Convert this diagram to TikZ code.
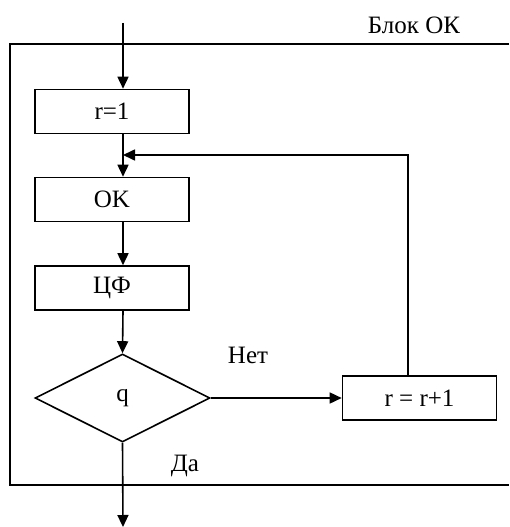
\documentclass[tikz,border=0pt]{standalone}
\usepackage{fontspec}
\setmainfont{Liberation Serif}
\usetikzlibrary{arrows.meta,shapes.geometric}
\begin{document}
\begin{tikzpicture}[x=1pt,y=-1pt,
  line width=1.6pt,
  every node/.style={font=\fontsize{25}{29}\selectfont},
  procbox/.style={draw,rectangle,minimum width=154pt,minimum height=44pt,inner sep=0pt},
  decis/.style={draw,diamond,minimum width=175pt,minimum height=88pt,inner sep=0pt},
  flow/.style={-{Triangle[length=12pt,width=11pt]}},
  lbl/.style={inner sep=0pt}]
\useasboundingbox (0,0) rectangle (509,527);
% frame
\draw (509,44) -- (10,44) -- (10,485) -- (509,485);
\node[lbl] (title) at (414,25) {Блок ОК};
\coordinate (start) at (123,23);
\node[procbox] (r1) at (112,111.5) {r=1};
\node[procbox] (ok) at (112,199.5) {OK};
\node[procbox] (cf) at (112,288) {ЦФ};
\node[decis] (q) at (122.5,398) {q};
\node[procbox] (rr) at (419.5,398) {r = r+1};
\coordinate (j) at (123,155);
\coordinate (corner) at (408,155);
\coordinate (end) at (123,527);
\node[lbl] (net) at (248,355) {Нет};
\node[lbl] (da) at (185,466) {Да};
\draw[flow] (start) -- (start |- r1.north);
\draw (r1.south -| start) -- (j);
\draw[flow] (j) -- (j |- ok.north);
\draw[flow] (ok.south -| start) -- (start |- cf.north);
\draw[flow] (cf.south -| start) -- (q.north);
\draw[flow] (q.east) -- (rr.west);
\draw[flow] (rr.north -| corner) -- (corner) -- (j);
\draw[flow] (q.south) -- (end);
\end{tikzpicture}
\end{document}
